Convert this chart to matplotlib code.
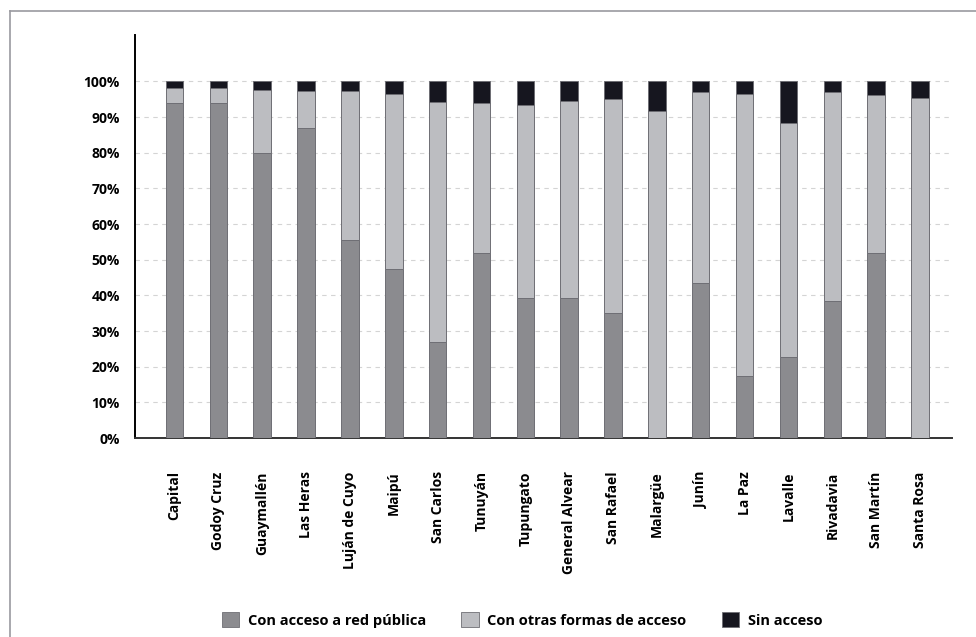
import numpy as np
import matplotlib
matplotlib.use('Agg')
from matplotlib import pyplot as plt
from matplotlib.lines import Line2D
from matplotlib.ticker import FuncFormatter

# departamentos
departments = ['Capital', 'Godoy Cruz', 'Guaymallén', 'Las Heras', 'Luján de Cuyo',
               'Maipú', 'San Carlos', 'Tunuyán', 'Tupungato', 'General Alvear',
               'San Rafael', 'Malargüe', 'Junín', 'La Paz', 'Lavalle',
               'Rivadavia', 'San Martín', 'Santa Rosa']

# shares (fraction of households)
red_publica = [0.94, 0.94, 0.80, 0.87, 0.555, 0.474, 0.27, 0.52, 0.392,
               0.392, 0.35, 0.0, 0.434, 0.173, 0.226, 0.385, 0.52, 0.0]
otras_formas = [0.04, 0.04, 0.177, 0.103, 0.418, 0.491, 0.672, 0.419, 0.543,
                0.552, 0.601, 0.917, 0.536, 0.791, 0.656, 0.585, 0.441, 0.954]
sin_acceso = [0.02, 0.02, 0.023, 0.027, 0.027, 0.035, 0.058, 0.061, 0.065,
              0.056, 0.049, 0.083, 0.03, 0.036, 0.118, 0.03, 0.039, 0.046]

labels = ['Con acceso a red pública', 'Con otras formas de acceso', 'Sin acceso']
colors = ['#8b8b8f', '#bcbdc1', '#16161f']

plt.rcParams['font.family'] = ['Open Sans', 'DejaVu Sans']

fig = plt.figure(figsize=(9.76, 6.37), dpi=100)
ax = fig.add_axes([135/976, 1 - 438/637, (952 - 135)/976, (438 - 35)/637])

x = np.arange(len(departments))
w = 0.4
bottom = np.zeros(len(departments))
for vals, c in zip([red_publica, otras_formas, sin_acceso], colors):
    ax.bar(x, vals, w, bottom=bottom, color=c, edgecolor='#6e6e74', linewidth=0.7, zorder=3)
    bottom += np.array(vals)

ax.set_xlim(-0.9, len(departments) - 0.27)
ax.set_ylim(0, 1.13)
ax.set_yticks(np.arange(0, 1.01, 0.1))
ax.yaxis.set_major_formatter(FuncFormatter(lambda v, p: '{:.0f}%'.format(v * 100)))
ax.grid(axis='y', linestyle=(0, (4, 4)), color='#d4d4d4', linewidth=0.8, zorder=0)

ax.set_xticks(x)
ax.set_xticklabels(departments, rotation=90, fontsize=10, fontweight='bold')
for t in ax.get_yticklabels():
    t.set_fontsize(10)
    t.set_fontweight('bold')
ax.tick_params(axis='both', length=0)
ax.tick_params(axis='x', pad=24)
ax.tick_params(axis='y', pad=11)

for s in ['top', 'right']:
    ax.spines[s].set_visible(False)
ax.spines['left'].set_linewidth(1.4)
ax.spines['bottom'].set_linewidth(1.4)
ax.spines['bottom'].set_color('#333333')

# legend
handles = [plt.Rectangle((0, 0), 1, 1, facecolor=c, edgecolor='#6e6e74', linewidth=0.6) for c in colors]
fig.legend(handles, labels, loc='center', bbox_to_anchor=(522/976, 1 - 620/637), ncol=3,
           frameon=False, prop={'size': 10.5, 'weight': 'bold'},
           handlelength=1.2, handleheight=1.2, columnspacing=2.4, handletextpad=0.6)

# scanned frame
fig.add_artist(Line2D([10/976, 1.0], [1 - 11/637, 1 - 11/637], color='#9a9aa0', linewidth=1.2))
fig.add_artist(Line2D([10/976, 10/976], [0, 1 - 11/637], color='#9a9aa0', linewidth=1.2))

fig.savefig('out.png', dpi=100)
